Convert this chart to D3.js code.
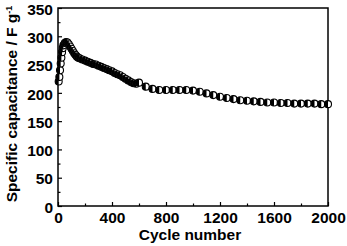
<!DOCTYPE html>
<meta charset="utf-8">
<head>
  <title>Cycling stability</title>
</head>
<style>
  body { margin: 0; background: #fff; }
  text { font-family: "Liberation Sans", Arial, sans-serif; font-weight: bold; fill: #000; }
</style>
<body>
  <svg width="347" height="246"></svg>
  <script src="https://cdn.jsdelivr.net/npm/d3@7"></script>
  <script>
    // cycle number of each marker and the capacitance
    var cycles = [5, 10, 15, 20, 25, 30, 35, 40, 50, 60, 70, 80, 90, 100, 110, 120, 130, 140, 150, 160,
      180, 200, 220, 240, 260, 280, 300, 320, 340, 360, 380, 400, 420, 440, 460, 480, 500, 520, 540, 560,
      580, 600, 650, 700, 750, 800, 850, 900, 950, 1000, 1050, 1100, 1150, 1200, 1250, 1300, 1350, 1400,
      1450, 1500, 1550, 1600, 1650, 1700, 1750, 1800, 1850, 1900, 1950, 2000];
    var capacitance = [220, 228, 240, 252, 262, 272, 279, 284, 288, 290, 289, 286, 282, 278, 274, 270, 267, 264, 262, 261,
      259, 257, 255, 253, 251, 250, 248, 246, 244, 242, 240, 238, 235, 233, 231, 228, 225, 222, 219, 217,
      216, 218, 211, 207, 205, 205, 205, 205, 205, 204, 202, 199, 196, 193, 191, 189, 187, 186,
      185, 184, 183, 183, 182, 182, 181, 181, 181, 181, 180, 180];
    var xTicks = [0, 400, 800, 1200, 1600, 2000];
    var xMinor = [200, 600, 1000, 1400, 1800];
    var yTicks = [0, 50, 100, 150, 200, 250, 300, 350];
    var yMinor = [25, 75, 125, 175, 225, 275, 325];

    var pLeft = 58, pRight = 328, pTop = 8, pBottom = 206;
    var x = d3.scaleLinear().domain([0, 2000]).range([pLeft, pRight]);
    var y = d3.scaleLinear().domain([0, 350]).range([pBottom, pTop]);

    var svg = d3.select('svg');

    // axes (inward ticks)
    var xAxis = svg.append('g').attr('transform', 'translate(0,' + pBottom + ')')
      .call(d3.axisBottom(x).tickValues(xTicks).tickFormat(d3.format('d')).tickSize(-4).tickPadding(6));
    svg.append('g').attr('transform', 'translate(0,' + pBottom + ')')
      .call(d3.axisBottom(x).tickValues(xMinor).tickSize(-2.5).tickFormat(''));
    var yAxis = svg.append('g').attr('transform', 'translate(' + pLeft + ',0)')
      .call(d3.axisLeft(y).tickValues(yTicks).tickFormat(d3.format('d')).tickSize(-4).tickPadding(5));
    svg.append('g').attr('transform', 'translate(' + pLeft + ',0)')
      .call(d3.axisLeft(y).tickValues(yMinor).tickSize(-2.5).tickFormat(''));

    svg.selectAll('.domain').remove();
    svg.selectAll('.tick line').attr('stroke', '#000').attr('stroke-width', 1.2);
    svg.selectAll('.tick text').style('font-size', '15.5px')
      .style('font-family', '"Liberation Sans", Arial, sans-serif').style('font-weight', 'bold');
    yAxis.selectAll('.tick text').attr('dy', '0.4em');

    // frame
    svg.append('rect')
      .attr('x', pLeft).attr('y', pTop)
      .attr('width', pRight - pLeft).attr('height', pBottom - pTop)
      .attr('fill', 'none').attr('stroke', '#000').attr('stroke-width', 1.5);

    // half-filled markers
    var r = 3.5;
    var halfArc = d3.arc()({ innerRadius: 0, outerRadius: r, startAngle: Math.PI, endAngle: 2 * Math.PI });
    var pts = svg.append('g').selectAll('g')
      .data(cycles.map(function (c, i) { return [c, capacitance[i]]; }))
      .enter().append('g')
      .attr('transform', function (d) { return 'translate(' + x(d[0]) + ',' + y(d[1]) + ')'; });
    pts.append('circle').attr('r', r).attr('fill', '#fff').attr('stroke', '#000').attr('stroke-width', 1.1);
    pts.append('path').attr('d', halfArc).attr('fill', '#000');

    // axis titles
    svg.append('text')
      .attr('x', 190).attr('y', 240)
      .attr('text-anchor', 'middle')
      .style('font-size', '15.5px')
      .text('Cycle number');

    var yl = svg.append('text')
      .attr('transform', 'translate(17,104) rotate(-90)')
      .attr('text-anchor', 'middle')
      .style('font-size', '15.5px');
    yl.append('tspan').text('Specific capacitance / F g');
    yl.append('tspan').attr('dy', '-0.6em').style('font-size', '9px').text('-1');
  </script>
</body>
</html>
